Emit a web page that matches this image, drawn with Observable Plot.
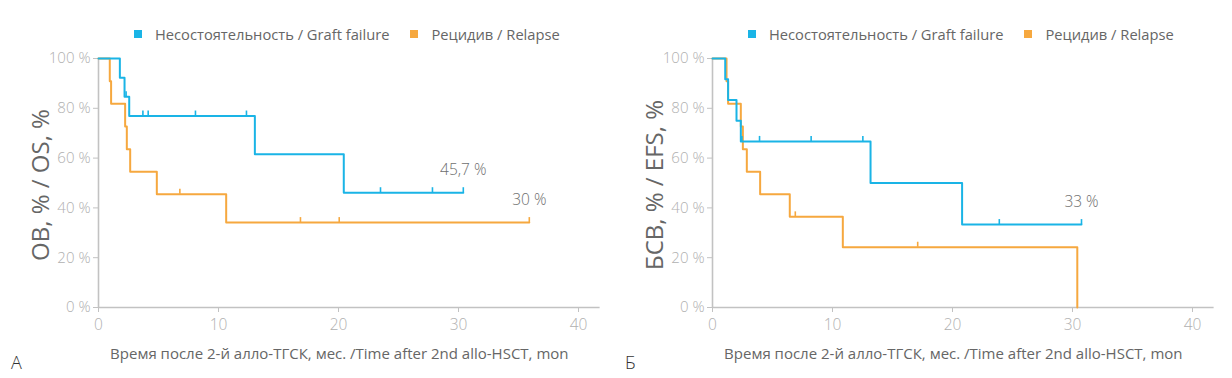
<!DOCTYPE html>
<html><head><meta charset="utf-8">
<script src="https://cdn.jsdelivr.net/npm/d3@7"></script>
<script src="https://cdn.jsdelivr.net/npm/@observablehq/plot@0.6"></script>
<style>
html,body{margin:0;padding:0;background:#fff;}
#root{position:relative;width:1232px;height:378px;overflow:hidden;font-family:"Open Sans",sans-serif;}
.panel{position:absolute;top:0;}
.legend{position:absolute;top:24px;display:flex;align-items:center;font-size:14.7px;color:#666;white-space:nowrap;line-height:20px;}
.legend .item{display:flex;align-items:center;margin-right:21px;}
.legend .sw{width:8px;height:8px;display:inline-block;margin-right:13px;}
.letter{position:absolute;top:350px;font-size:18px;color:#333;font-weight:300;}
</style></head><body><div id="root"></div>
<script>
// ---- shared ----
const seriesNames = ["Несостоятельность / Graft failure", "Рецидив / Relapse"];
const seriesColors = ["#1ab4e6", "#f6a83f"];
const xTicks = [0, 10, 20, 30, 40];
const yTicks = [0, 20, 40, 60, 80, 100];
const xTitle = "Время после 2-й алло-ТГСК, мес. /Time after 2nd allo-HSCT, mon";

// ---- Panel A: OS ----
const osGraftTime = [0, 1.78, 2.17, 2.56, 13.03, 20.44, 30.4];
const osGraftSurv = [100, 92.3, 84.6, 76.9, 61.5, 46.1, 46.1];
const osGraftCensor = [2.3, 3.7, 4.14, 8.08, 12.33, 23.5, 27.83, 30.4];
const osRelapseTime = [0, 0.94, 1.05, 2.22, 2.36, 2.64, 4.86, 10.64, 35.9];
const osRelapseSurv = [100, 90.9, 81.8, 72.7, 63.6, 54.5, 45.5, 34.1, 34.1];
const osRelapseCensor = [6.78, 16.83, 20.06, 35.9];
const osEndLabels = ["45,7 %", "30 %"];

// ---- Panel B: EFS ----
const efsGraftTime = [0, 1.06, 1.3, 2.0, 2.36, 13.17, 20.8, 30.75];
const efsGraftSurv = [100, 91.7, 83.3, 75.0, 66.7, 50.0, 33.3, 33.3];
const efsGraftCensor = [2.45, 3.92, 8.22, 12.53, 23.9, 30.75];
const efsRelapseTime = [0, 1.17, 1.3, 2.36, 2.53, 2.86, 3.97, 6.44, 10.86, 30.4];
const efsRelapseSurv = [100, 90.9, 81.8, 72.7, 63.6, 54.5, 45.5, 36.4, 24.2, 0];
const efsRelapseCensor = [6.9, 17.1];
const efsEndLabels = ["33 %", ""];

function buildRows(series) {
  const curve = [], censor = [], ends = [];
  series.forEach(({name, time, surv, cens, label}) => {
    time.forEach((t, i) => curve.push({name, t, s: surv[i]}));
    const at = (t) => { let v = surv[0]; time.forEach((tt, i) => { if (tt <= t) v = surv[i]; }); return v; };
    cens.forEach(t => censor.push({name, t, s: at(t)}));
    if (label) ends.push({name, t: time[time.length - 1], s: surv[surv.length - 1], label});
  });
  return {curve, censor, ends};
}

function panel({left, width, marginRight, yLabel, series, letter}) {
  const {curve, censor, ends} = buildRows(series);
  const order = [...seriesNames].reverse();
  const marks = [
    Plot.ruleX([0], {stroke: "#c2c2c2", strokeWidth: 1.6}),
    Plot.ruleY([0], {stroke: "#c2c2c2", strokeWidth: 1.6}),
    Plot.axisY({ticks: yTicks, tickFormat: d => `${d} %`, tickSize: 5, tickPadding: 3, fontSize: 15, fill: "#b0b0b0", stroke: "#c2c2c2", fontWeight: 300, label: null}),
    Plot.axisX({ticks: xTicks, tickSize: 5, tickPadding: 6, fontSize: 15.5, fill: "#b0b0b0", stroke: "#c2c2c2", fontWeight: 300, label: null}),
    Plot.text([yLabel], {frameAnchor: "left", rotate: -90, textAnchor: "middle", dx: -57, dy: 2, fontSize: 24, fill: "#666"}),
    Plot.text([xTitle], {frameAnchor: "bottom", dx: -10, dy: 51, fontSize: 15, fill: "#666"}),
  ];
  order.forEach(n => {
    marks.push(Plot.line(curve.filter(d => d.name === n), {x: "t", y: "s", stroke: "name", strokeWidth: 2, curve: "step-after"}));
    marks.push(Plot.ruleX(censor.filter(d => d.name === n), {x: "t", y1: "s", y2: "s", stroke: "name", strokeWidth: 1.6, insetTop: -5}));
  });
  marks.push(Plot.text(ends, {x: "t", y: "s", text: "label", dy: -23, fontSize: 15.5, fill: "#6e6e6e", fontWeight: 300}));

  const chart = Plot.plot({
    width, height: 378, marginTop: 58, marginBottom: 71, marginLeft: 98, marginRight,
    style: {fontFamily: "'Open Sans', sans-serif", background: "transparent", overflow: "visible"},
    x: {domain: [0, 41.8]},
    y: {domain: [0, 100]},
    color: {domain: seriesNames, range: seriesColors},
    marks
  });
  const wrap = document.createElement("div");
  wrap.className = "panel";
  wrap.style.left = left + "px";
  wrap.appendChild(chart);
  const root = document.getElementById("root");
  root.appendChild(wrap);

  const leg = document.createElement("div");
  leg.className = "legend";
  leg.style.left = (left + 134) + "px";
  seriesNames.forEach((n, i) => {
    const it = document.createElement("span");
    it.className = "item";
    const sw = document.createElement("span");
    sw.className = "sw";
    sw.style.background = seriesColors[i];
    it.appendChild(sw);
    it.appendChild(document.createTextNode(n));
    leg.appendChild(it);
  });
  root.appendChild(leg);

  const l = document.createElement("div");
  l.className = "letter";
  l.style.left = (left + 11) + "px";
  l.textContent = letter;
  root.appendChild(l);
}

panel({
  left: 0, width: 614, marginRight: 14.4, yLabel: "ОВ, % / OS, %", letter: "А",
  series: [
    {name: seriesNames[0], time: osGraftTime, surv: osGraftSurv, cens: osGraftCensor, label: osEndLabels[0]},
    {name: seriesNames[1], time: osRelapseTime, surv: osRelapseSurv, cens: osRelapseCensor, label: osEndLabels[1]}
  ]
});
panel({
  left: 614, width: 618, marginRight: 18.4, yLabel: "БСВ, % / EFS, %", letter: "Б",
  series: [
    {name: seriesNames[0], time: efsGraftTime, surv: efsGraftSurv, cens: efsGraftCensor, label: efsEndLabels[0]},
    {name: seriesNames[1], time: efsRelapseTime, surv: efsRelapseSurv, cens: efsRelapseCensor, label: efsEndLabels[1]}
  ]
});
</script></body></html>
